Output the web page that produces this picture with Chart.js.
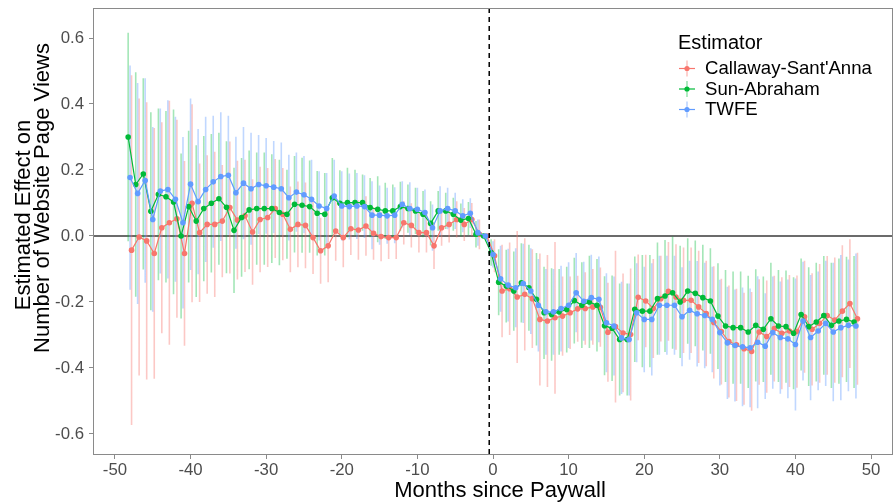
<!DOCTYPE html>
<html>
<head>
<meta charset="utf-8">
<title>Estimated Effect on Number of Website Page Views</title>
<script src="https://cdn.jsdelivr.net/npm/chart.js@4.4.1/dist/chart.umd.min.js"></script>
<style>
  html, body { margin: 0; padding: 0; background: #ffffff; }
  #wrap { width: 893px; height: 502px; }
</style>
</head>
<body>
<div id="wrap"><canvas id="chart" width="893" height="502"></canvas></div>
<script>
// Event time in months relative to the paywall start (-48 ... 48)
const months = Array.from({ length: 97 }, (_, i) => i - 48);

// Point estimates per estimator, one value per month
const callawaySantAnna = [
  -0.043, -0.003, -0.015, -0.053, 0.025, 0.04, 0.052, -0.053, 0.099, 0.01, 0.035, 0.035,
  0.045, 0.086, 0.048, 0.061, 0.012, 0.05, 0.056, 0.083, 0.066, 0.02, 0.035, 0.032,
  -0.005, -0.045, -0.03, 0.015, -0.005, 0.022, 0.018, 0.03, 0.008, -0.002, -0.005, -0.005,
  0.04, 0.032, 0.01, 0.01, -0.03, 0.025, 0.035, 0.05, 0.035, 0.05, 0.005, 0,
  -0.06, -0.167, -0.16, -0.185, -0.177, -0.19, -0.253, -0.258, -0.248, -0.243, -0.233, -0.221,
  -0.22, -0.215, -0.216, -0.292, -0.275, -0.294, -0.299, -0.186, -0.197, -0.22, -0.19, -0.168,
  -0.185, -0.195, -0.195, -0.215, -0.235, -0.262, -0.29, -0.32, -0.33, -0.342, -0.35, -0.291,
  -0.305, -0.281, -0.295, -0.288, -0.29, -0.245, -0.283, -0.265, -0.241, -0.255, -0.228, -0.205,
  -0.251
];
const sunAbraham = [
  0.30, 0.156, 0.188, 0.075, 0.126, 0.119, 0.103, 0.0, 0.089, 0.045, 0.083, 0.099,
  0.113, 0.087, 0.017, 0.056, 0.079, 0.083, 0.083, 0.083, 0.071, 0.066, 0.096, 0.093,
  0.089, 0.069, 0.066, 0.116, 0.099, 0.101, 0.101, 0.101, 0.086, 0.081, 0.076, 0.076,
  0.089, 0.083, 0.076, 0.066, 0.038, 0.076, 0.076, 0.066, 0.048, 0.053, 0.005, 0,
  -0.05, -0.14, -0.152, -0.167, -0.142, -0.157, -0.192, -0.233, -0.238, -0.23, -0.223, -0.196,
  -0.21, -0.2, -0.21, -0.272, -0.28, -0.314, -0.314, -0.222, -0.228, -0.228, -0.19, -0.182,
  -0.172, -0.2, -0.167, -0.174, -0.187, -0.197, -0.243, -0.273, -0.278, -0.278, -0.291, -0.271,
  -0.283, -0.251, -0.273, -0.275, -0.295, -0.238, -0.275, -0.261, -0.241, -0.271, -0.258, -0.253,
  -0.261
];
const twfe = [
  0.177, 0.129, 0.168, 0.05, 0.136, 0.141, 0.111, 0.04, 0.157, 0.104, 0.141, 0.164,
  0.18, 0.184, 0.131, 0.16, 0.143, 0.156, 0.152, 0.148, 0.143, 0.116, 0.133, 0.125,
  0.111, 0.091, 0.083, 0.121, 0.091, 0.089, 0.091, 0.089, 0.063, 0.063, 0.061, 0.063,
  0.096, 0.083, 0.081, 0.071, 0.025, 0.076, 0.083, 0.076, 0.061, 0.069, 0.01, 0,
  -0.056, -0.13, -0.149, -0.157, -0.144, -0.167, -0.21, -0.23, -0.23, -0.22, -0.21, -0.172,
  -0.198, -0.187, -0.192, -0.263, -0.273, -0.309, -0.314, -0.233, -0.253, -0.253, -0.21, -0.21,
  -0.21, -0.245, -0.225, -0.236, -0.241, -0.253, -0.293, -0.324, -0.332, -0.336, -0.339, -0.322,
  -0.334, -0.293, -0.308, -0.312, -0.329, -0.258, -0.308, -0.288, -0.265, -0.291, -0.278, -0.271,
  -0.273
];

// Half-widths of the 95% confidence intervals, one value per month
const callawaySantAnnaCI = [
  0.53, 0.42, 0.42, 0.38, 0.32, 0.37, 0.30, 0.28, 0.30, 0.21, 0.21, 0.22,
  0.17, 0.20, 0.18, 0.17, 0.16, 0.16, 0.15, 0.15, 0.14, 0.13, 0.13, 0.13,
  0.11, 0.10, 0.11, 0.09, 0.09, 0.08, 0.09, 0.09, 0.08, 0.075, 0.065, 0.065,
  0.066, 0.067, 0.06, 0.06, 0.07, 0.055, 0.055, 0.055, 0.05, 0.05, 0.045, 0,
  0.05, 0.14, 0.14, 0.2, 0.17, 0.15, 0.2, 0.2, 0.23, 0.12, 0.11, 0.1,
  0.11, 0.115, 0.12, 0.15, 0.23, 0.18, 0.2, 0.13, 0.14, 0.15, 0.13, 0.15,
  0.16, 0.16, 0.16, 0.17, 0.16, 0.17, 0.16, 0.17, 0.17, 0.17, 0.18, 0.16,
  0.17, 0.16, 0.17, 0.17, 0.17, 0.17, 0.17, 0.18, 0.18, 0.19, 0.2, 0.195,
  0.2
];
const sunAbrahamCI = [
  0.316, 0.34, 0.29, 0.30, 0.26, 0.26, 0.28, 0.25, 0.23, 0.23, 0.22, 0.21,
  0.20, 0.20, 0.19, 0.18, 0.18, 0.17, 0.17, 0.165, 0.16, 0.135, 0.146, 0.144,
  0.14, 0.128, 0.125, 0.12, 0.10, 0.106, 0.10, 0.085, 0.09, 0.10, 0.085, 0.08,
  0.075, 0.073, 0.07, 0.07, 0.067, 0.06, 0.055, 0.05, 0.05, 0.05, 0.04, 0,
  0.04, 0.1, 0.11, 0.12, 0.12, 0.13, 0.14, 0.14, 0.14, 0.13, 0.13, 0.13,
  0.13, 0.14, 0.14, 0.15, 0.16, 0.17, 0.17, 0.16, 0.17, 0.17, 0.17, 0.17,
  0.17, 0.17, 0.16, 0.16, 0.16, 0.16, 0.16, 0.17, 0.17, 0.17, 0.17, 0.17,
  0.16, 0.17, 0.17, 0.17, 0.17, 0.17, 0.18, 0.18, 0.18, 0.19, 0.19, 0.19,
  0.2
];
const twfeCI = [
  0.34, 0.335, 0.31, 0.28, 0.25, 0.27, 0.25, 0.26, 0.26, 0.22, 0.22, 0.2,
  0.195, 0.18, 0.17, 0.17, 0.17, 0.15, 0.145, 0.14, 0.14, 0.13, 0.12, 0.117,
  0.12, 0.105, 0.108, 0.11, 0.105, 0.1, 0.1, 0.095, 0.103, 0.09, 0.085, 0.085,
  0.07, 0.08, 0.065, 0.07, 0.07, 0.075, 0.063, 0.055, 0.05, 0.045, 0.04, 0,
  0.04, 0.1, 0.11, 0.12, 0.12, 0.13, 0.14, 0.13, 0.13, 0.13, 0.13, 0.12,
  0.12, 0.13, 0.13, 0.15, 0.15, 0.17, 0.17, 0.15, 0.16, 0.17, 0.15, 0.15,
  0.15, 0.15, 0.15, 0.16, 0.16, 0.16, 0.16, 0.17, 0.17, 0.18, 0.18, 0.2,
  0.16, 0.17, 0.17, 0.18, 0.2, 0.18, 0.19, 0.18, 0.19, 0.21, 0.22, 0.2,
  0.22
];

// Axis ticks and reference lines
const xTickValues = [-50, -40, -30, -20, -10, 0, 10, 20, 30, 40, 50];
const yTickValues = [-0.6, -0.4, -0.2, 0.0, 0.2, 0.4, 0.6];
const paywallLine = -0.5;
const zeroLine = 0;

// Estimator names, drawing styles and small horizontal dodge
const estimators = [
  { name: "Callaway-Sant'Anna", values: callawaySantAnna, ci: callawaySantAnnaCI,
    color: '#F8766D', light: 'rgba(248,118,109,0.40)', dodge: 0.2 },
  { name: 'Sun-Abraham', values: sunAbraham, ci: sunAbrahamCI,
    color: '#00BA38', light: 'rgba(0,186,56,0.36)', dodge: -0.25 },
  { name: 'TWFE', values: twfe, ci: twfeCI,
    color: '#619CFF', light: 'rgba(97,156,255,0.40)', dodge: 0 }
];

const FONT = '"Liberation Sans", Arial, Helvetica, sans-serif';

// Vertical interval segments: low/high pairs separated by gaps
function intervalData(est) {
  const pts = [];
  months.forEach((m, i) => {
    const x = m + est.dodge;
    pts.push({ x, y: est.values[i] - est.ci[i] });
    pts.push({ x, y: est.values[i] + est.ci[i] });
    pts.push({ x, y: null });
  });
  return pts;
}

const datasets = [];
estimators.forEach((est, k) => {
  datasets.push({
    label: est.name + ' interval',
    data: intervalData(est),
    borderColor: est.light,
    borderWidth: 1.6,
    borderCapStyle: 'butt',
    pointRadius: 0,
    spanGaps: false,
    tension: 0,
    order: 10 - k
  });
});
estimators.forEach((est, k) => {
  datasets.push({
    label: est.name,
    data: months.map((m, i) => ({ x: m + est.dodge, y: est.values[i] })),
    borderColor: est.color,
    borderWidth: 1.2,
    pointRadius: 2.8,
    pointBackgroundColor: est.color,
    pointBorderWidth: 0,
    tension: 0,
    order: 5 - k
  });
});

// Zero line, paywall marker and panel border
const referenceLines = {
  id: 'referenceLines',
  beforeDatasetsDraw(chart) {
    const { ctx, chartArea: a, scales: { y } } = chart;
    ctx.save();
    const y0 = y.getPixelForValue(zeroLine);
    ctx.strokeStyle = '#3a3a3a';
    ctx.lineWidth = 1.6;
    ctx.beginPath();
    ctx.moveTo(a.left, y0);
    ctx.lineTo(a.right, y0);
    ctx.stroke();
    ctx.restore();
  },
  afterDatasetsDraw(chart) {
    const { ctx, chartArea: a, scales: { x } } = chart;
    ctx.save();
    const xp = x.getPixelForValue(paywallLine);
    ctx.strokeStyle = '#000000';
    ctx.lineWidth = 1.5;
    ctx.setLineDash([5, 4]);
    ctx.beginPath();
    ctx.moveTo(xp, a.top);
    ctx.lineTo(xp, a.bottom);
    ctx.stroke();
    ctx.setLineDash([]);
    ctx.strokeStyle = '#8a8a8a';
    ctx.lineWidth = 1;
    ctx.strokeRect(a.left + 0.5, a.top + 0.5, a.right - a.left - 1, a.bottom - a.top - 1);
    ctx.restore();
  }
};

// Axis titles and the estimator key
const annotations = {
  id: 'annotations',
  afterDraw(chart) {
    const { ctx } = chart;
    ctx.save();
    ctx.fillStyle = '#000000';
    ctx.font = '22px ' + FONT;
    ctx.textAlign = 'center';
    ctx.textBaseline = 'middle';
    ctx.fillText('Months since Paywall', 500, 491);

    ctx.save();
    ctx.translate(24, 215);
    ctx.rotate(-Math.PI / 2);
    ctx.fillText('Estimated Effect on', 0, 0);
    ctx.restore();
    ctx.save();
    ctx.translate(43, 198);
    ctx.rotate(-Math.PI / 2);
    ctx.fillText('Number of Website Page Views', 0, 0);
    ctx.restore();

    ctx.textAlign = 'left';
    ctx.font = '20px ' + FONT;
    ctx.fillText('Estimator', 678, 43);

    ctx.font = '18.6px ' + FONT;
    estimators.forEach((est, k) => {
      const cy = 68.5 + k * 20.5;
      const cx = 687;
      ctx.strokeStyle = est.light;
      ctx.lineWidth = 1.7;
      ctx.beginPath();
      ctx.moveTo(cx, cy - 8);
      ctx.lineTo(cx, cy + 8);
      ctx.stroke();
      ctx.strokeStyle = est.color;
      ctx.lineWidth = 1.2;
      ctx.beginPath();
      ctx.moveTo(cx - 8, cy);
      ctx.lineTo(cx + 8, cy);
      ctx.stroke();
      ctx.fillStyle = est.color;
      ctx.beginPath();
      ctx.arc(cx, cy, 2.6, 0, Math.PI * 2);
      ctx.fill();
      ctx.fillStyle = '#000000';
      ctx.fillText(est.name, 705, cy + 0.5);
    });
    ctx.restore();
  }
};

new Chart(document.getElementById('chart'), {
  type: 'line',
  data: { datasets },
  options: {
    responsive: false,
    animation: false,
    events: [],
    layout: { autoPadding: false, padding: { top: 8, right: 0, left: 0, bottom: 0 } },
    plugins: { legend: { display: false }, tooltip: { enabled: false } },
    scales: {
      x: {
        type: 'linear',
        min: -52.9,
        max: 52.9,
        afterBuildTicks: s => { s.ticks = xTickValues.map(v => ({ value: v })); },
        afterFit: s => {
          s.height = 47;
          s.paddingLeft = 0; s.paddingRight = 0; s.paddingTop = 0; s.paddingBottom = 0;
        },
        ticks: {
          font: { family: FONT, size: 16.8 },
          color: '#4D4D4D',
          padding: 1,
          maxRotation: 0,
          autoSkip: false,
          callback: v => String(v)
        },
        grid: { drawOnChartArea: false, drawTicks: true, tickLength: 4, color: '#8a8a8a', lineWidth: 1 },
        border: { display: false },
        title: { display: false }
      },
      y: {
        type: 'linear',
        min: -0.664,
        max: 0.691,
        afterBuildTicks: s => { s.ticks = yTickValues.map(v => ({ value: v })); },
        afterFit: s => {
          s.width = 93;
          s.paddingLeft = 0; s.paddingRight = 0; s.paddingTop = 0; s.paddingBottom = 0;
        },
        ticks: {
          font: { family: FONT, size: 16.8 },
          color: '#4D4D4D',
          padding: 5,
          autoSkip: false,
          callback: v => v.toFixed(1)
        },
        grid: { drawOnChartArea: false, drawTicks: true, tickLength: 4, color: '#8a8a8a', lineWidth: 1 },
        border: { display: false },
        title: { display: false }
      }
    }
  },
  plugins: [referenceLines, annotations]
});
</script>
</body>
</html>
